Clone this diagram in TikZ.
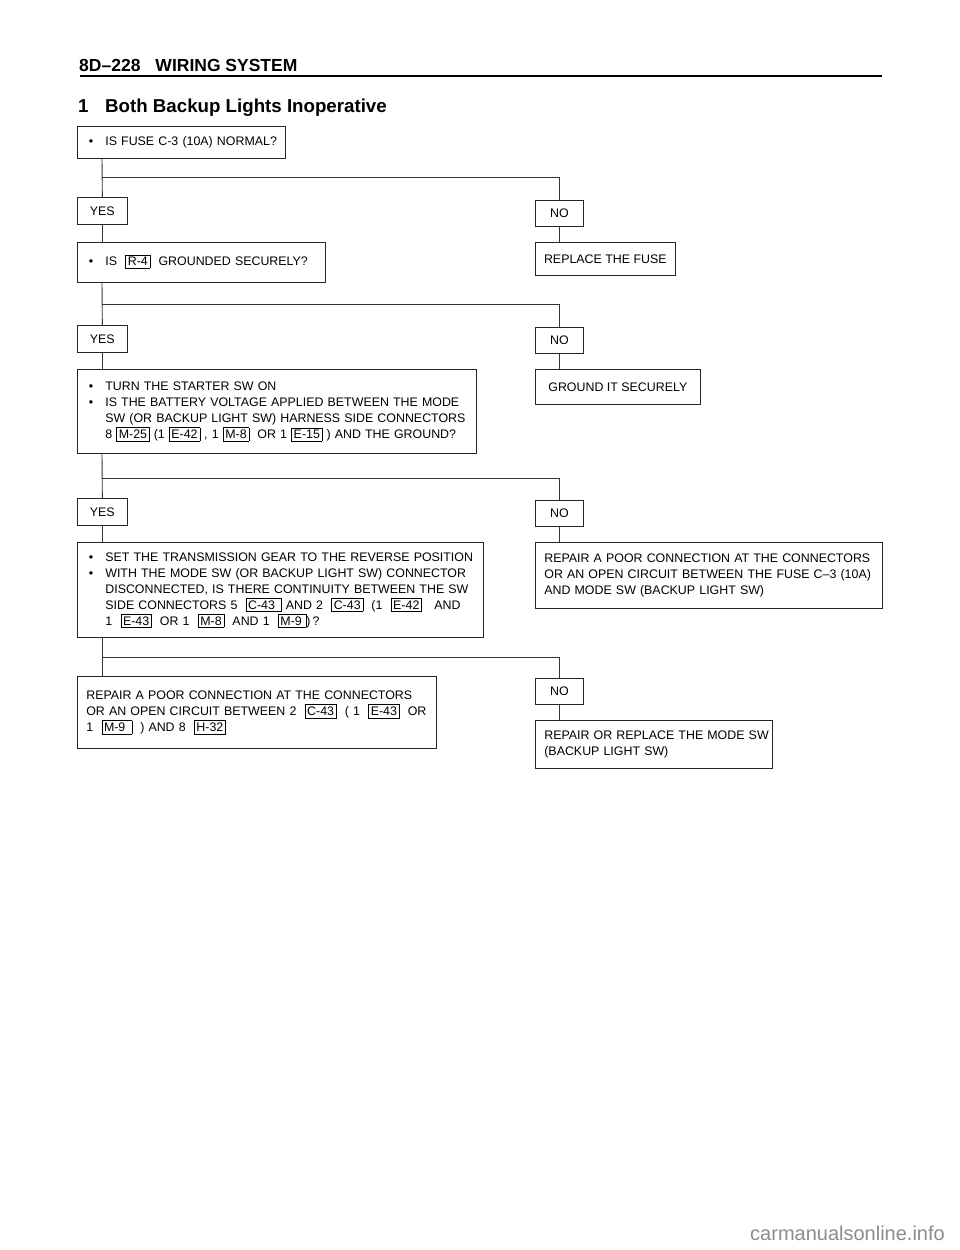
\documentclass[tikz,border=0pt]{standalone}
\usepackage{fontspec}
\setmainfont{Liberation Sans}

% Riquadri dei connettori e righe di testo
\setlength{\fboxsep}{2pt}
\setlength{\fboxrule}{0.5pt}
\newcommand{\conn}[1]{\fbox{#1}}
\newcommand{\blt}{\makebox[19pt][l]{\hspace{2.5pt}\textbullet}}
\newcommand{\bulletlines}[1]{\begin{tabular}{@{}l@{}l@{}}#1\end{tabular}}
\newcommand{\boxlines}[1]{\begin{tabular}{@{}l@{}}#1\end{tabular}}

\tikzset{
  stepbox/.style={draw=black!85, line width=0.7pt, anchor=north west, inner xsep=9pt, inner ysep=0pt, align=left, font=\fontsize{12.4}{16}\selectfont},
  fixbox/.style={draw=black!85, line width=0.7pt, anchor=north west, inner sep=0pt, font=\fontsize{12.4}{16}\selectfont},
  answer/.style={draw=black!85, line width=0.7pt, anchor=north west, inner sep=0pt, minimum height=27, font=\fontsize{12.4}{16}\selectfont},
  link/.style={draw=black!80, line width=0.9pt}
}

\begin{document}
\begin{tikzpicture}[x=1pt,y=-1pt]

% Pagina
\fill[white] (0,0) rectangle (960,1250);
\useasboundingbox (0,0) rectangle (960,1250);

% Intestazione
\node[anchor=base west, inner sep=0pt, font=\fontsize{17.5}{20}\selectfont\bfseries] (hdr) at (79,71) {8D\textendash228\hspace{15pt}WIRING SYSTEM};
\draw[line width=2pt] (80,75.5) -- (882,75.5);
\node[anchor=base west, inner sep=0pt, font=\fontsize{18.7}{22}\selectfont\bfseries] (ttl) at (78,112) {\makebox[27pt][l]{1}Both Backup Lights Inoperative};

% Domande (colonna sinistra)
\node[stepbox, text width=190, minimum height=32] (q1) at (77,126) {\bulletlines{\blt & IS FUSE C-3 (10A) NORMAL?}};
\node[stepbox, text width=230, minimum height=40] (q2) at (77,242) {\bulletlines{\blt & IS \ \conn{R-4} \ GROUNDED SECURELY?}};
\node[stepbox, text width=381, minimum height=84] (q3) at (77,369) {\bulletlines{%
  \blt & TURN THE STARTER SW ON\\
  \blt & IS THE BATTERY VOLTAGE APPLIED BETWEEN THE MODE\\
       & SW (OR BACKUP LIGHT SW) HARNESS SIDE CONNECTORS\\
       & 8 \conn{M-25} (1 \conn{E-42} , 1 \conn{M-8} \ OR 1 \conn{E-15} ) AND THE GROUND?}};
\node[stepbox, text width=388, minimum height=95] (q4) at (77,542) {\bulletlines{%
  \blt & SET THE TRANSMISSION GEAR TO THE REVERSE POSITION\\
  \blt & WITH THE MODE SW (OR BACKUP LIGHT SW) CONNECTOR\\
       & DISCONNECTED, IS THERE CONTINUITY BETWEEN THE SW\\
       & SIDE CONNECTORS 5 \ \conn{C-43\ } AND 2 \ \conn{C-43} \ (1 \ \conn{E-42} \ \ AND\\
       & 1 \ \conn{E-43} \ OR 1 \ \conn{M-8} \ AND 1 \ \conn{M-9\,})\,?}};
\node[stepbox, text width=341, minimum height=72] (rep2) at (77,676) {\boxlines{%
  REPAIR A POOR CONNECTION AT THE CONNECTORS\\
  OR AN OPEN CIRCUIT BETWEEN 2 \ \conn{C-43} \ ( 1 \ \conn{E-43} \ OR\\
  1 \ \conn{M-9\ } \ ) AND 8 \ \conn{H-32}}};

% Risposte YES / NO
\node[answer, minimum width=50] (yes1) at (77,197) {YES};
\node[answer, minimum width=50] (yes2) at (77,325) {YES};
\node[answer, minimum width=50] (yes3) at (77,498) {YES};
\node[answer, minimum width=48, minimum height=26] (no1) at (535,200) {NO};
\node[answer, minimum width=48, minimum height=26] (no2) at (535,327) {NO};
\node[answer, minimum width=48, minimum height=26] (no3) at (535,500) {NO};
\node[answer, minimum width=48, minimum height=26] (no4) at (535,678) {NO};

% Rimedi (colonna destra)
\node[fixbox, minimum width=140, minimum height=33] (fix1) at (535,242) {REPLACE THE FUSE};
\node[fixbox, minimum width=165, minimum height=35] (fix2) at (535,369) {GROUND IT SECURELY};
\node[stepbox, text width=329, minimum height=66] (fix3) at (535,542) {\boxlines{%
  REPAIR A POOR CONNECTION AT THE CONNECTORS\\
  OR AN OPEN CIRCUIT BETWEEN THE FUSE C\textendash3 (10A)\\
  AND MODE SW (BACKUP LIGHT SW)}};
\node[stepbox, text width=219, minimum height=48] (fix4) at (535,720) {\boxlines{%
  REPAIR OR REPLACE THE MODE SW\\
  (BACKUP LIGHT SW)}};

% Diramazioni
\coordinate (b1) at (102,177);
\coordinate (b2) at (102,304);
\coordinate (b3) at (102,478);
\coordinate (b4) at (102,657);

\draw[link] (q1.south -| b1) -- (yes1.north);
\draw[link] (b1) -| (no1.north);
\draw[link] (yes1.south) -- (q2.north -| yes1);
\draw[link] (no1.south) -- (fix1.north -| no1);

\draw[link] (q2.south -| b2) -- (yes2.north);
\draw[link] (b2) -| (no2.north);
\draw[link] (yes2.south) -- (q3.north -| yes2);
\draw[link] (no2.south) -- (fix2.north -| no2);

\draw[link] (q3.south -| b3) -- (yes3.north);
\draw[link] (b3) -| (no3.north);
\draw[link] (yes3.south) -- (q4.north -| yes3);
\draw[link] (no3.south) -- (fix3.north -| no3);

\draw[link] (q4.south -| b4) -- (rep2.north -| b4);
\draw[link] (b4) -| (no4.north);
\draw[link] (no4.south) -- (fix4.north -| no4);

% Filigrana
\node[anchor=base east, inner sep=0pt, text=black!45, font=\fontsize{20}{24}\selectfont] (wm) at (945,1240) {carmanualsonline.info};

\end{tikzpicture}
\end{document}
